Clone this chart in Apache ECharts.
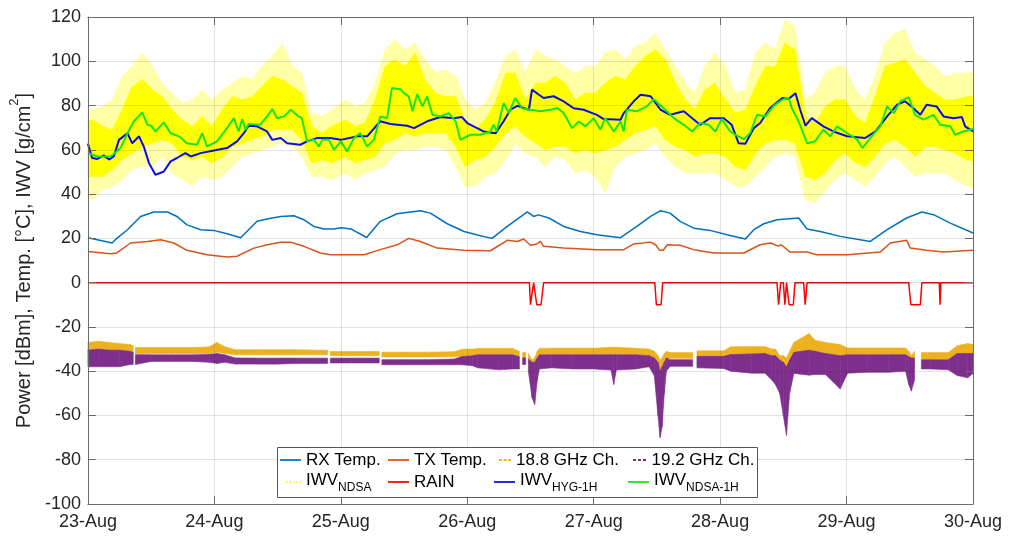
<!DOCTYPE html>
<html><head><meta charset="utf-8">
<script src="https://cdn.jsdelivr.net/npm/echarts@6/dist/echarts.min.js"></script>
<style>html,body{margin:0;padding:0;background:#fff}#c{width:1018px;height:538px}</style>
</head><body><div id="c"></div>
<script>
// x values are hours since 23-Aug 00:00
const xTickLabels = ['23-Aug','24-Aug','25-Aug','26-Aug','27-Aug','28-Aug','29-Aug','30-Aug'];

const rxTemp = [[0,20.3],[4.6,17.9],[5.2,19.4],[7.5,23.9],[10.0,29.9],[12.5,31.9],[15.1,31.9],[16.9,29.9],[18.8,26.1],[21.4,23.9],[23.9,23.6],[26.4,22.1],[29.0,20.3],[30.5,23.9],[32.1,27.7],[34.0,28.7],[36.6,29.9],[39.1,30.2],[41.0,28.4],[42.9,25.4],[44.8,24.2],[46.7,24.2],[48.0,24.8],[50.0,24.2],[52.9,20.4],[55.5,27.7],[58.7,31.1],[63.1,32.5],[65.0,31.4],[68.2,26.6],[71.4,23.1],[74.5,21.2],[76.7,20.0],[79.6,25.4],[83.4,32.0],[84.6,29.9],[85.5,30.6],[87.5,29.2],[90.3,25.4],[93.5,23.1],[96.6,21.6],[101.1,20.3],[104.2,25.4],[106.8,29.9],[108.7,32.5],[110.5,31.4],[112.4,27.7],[115.0,24.6],[118.1,23.6],[121.3,21.6],[124.8,19.7],[126.4,23.9],[128.3,26.6],[130.8,28.4],[134.9,29.2],[136.5,24.2],[139.0,23.1],[142.8,20.9],[148.5,18.6],[151.7,23.9],[155.4,29.2],[158.3,31.9],[160.5,30.7],[163.7,26.9],[168,22.4]];

const txTemp = [[0,14.1],[4.3,13.1],[5.5,13.4],[8.1,17.9],[11.3,18.6],[13.8,19.4],[16.3,17.9],[18.8,14.6],[22.6,12.6],[26.4,11.6],[28.3,11.9],[31.5,15.6],[34.0,17.1],[36.6,18.2],[38.5,18.3],[41.0,16.4],[44.1,13.4],[46.0,12.6],[52.4,12.6],[55.5,14.9],[58.7,17.1],[60.9,20.0],[63.1,18.6],[66.3,15.6],[71.4,14.6],[76.4,14.4],[79.6,19.1],[81.5,18.6],[82.7,19.7],[84.0,16.9],[85.2,17.5],[85.9,18.6],[86.5,16.4],[90.3,15.6],[96.6,14.9],[101.7,14.9],[103.6,17.5],[106.8,18.3],[107.8,17.0],[108.5,14.6],[109.2,14.6],[110.0,17.1],[112.4,16.9],[115.0,14.9],[118.8,13.4],[124.5,13.4],[127.6,17.1],[129.6,17.9],[131.0,16.5],[131.6,17.1],[133.3,13.8],[136.5,13.8],[138.3,12.6],[144.1,12.6],[150.4,13.8],[152.3,17.9],[155.4,19.1],[156.1,15.6],[159.2,14.6],[162.4,13.8],[168,14.6]];

const iwvHyg1h = [[0,62.8],[0.8,56.3],[1.8,55.9],[3.0,57.5],[4.0,55.6],[4.9,57.0],[5.9,64.5],[7.5,67.5],[8.4,63.0],[9.7,66.1],[10.6,61.5],[11.6,54.0],[12.8,48.7],[14.4,50.2],[15.7,54.8],[16.9,56.3],[18.5,58.5],[19.5,57.0],[21.4,58.5],[23.9,59.7],[26.4,60.8],[28.3,63.8],[29.6,67.5],[30.5,70.9],[32.1,70.6],[34.0,68.3],[35.0,64.5],[36.6,65.3],[37.8,63.0],[40.3,62.3],[41.6,63.8],[43.5,65.3],[46.0,65.3],[48.0,64.5],[51.2,66.1],[53.0,66.1],[55.5,72.9],[57.4,71.7],[60.6,70.9],[61.9,69.8],[64.4,72.9],[66.9,74.8],[69.5,74.3],[71.0,74.8],[72.0,72.1],[73.2,70.6],[75.1,68.3],[77.4,67.5],[78.9,72.9],[80.2,78.1],[81.5,79.9],[83.7,78.1],[84.3,87.2],[85.6,84.9],[86.5,83.4],[88.4,84.2],[90.3,81.9],[92.2,78.8],[94.1,78.1],[96.6,75.8],[97.9,73.9],[101.1,73.6],[101.7,76.6],[103.6,81.9],[104.9,84.9],[106.8,84.2],[108.7,78.1],[110.5,75.8],[113.1,77.4],[116.2,71.3],[118.1,74.3],[120.7,74.3],[122.2,71.3],[123.5,63.0],[124.8,62.7],[126.4,69.8],[127.6,72.1],[129.5,78.9],[131.8,83.4],[133.0,83.0],[134.3,85.6],[135.2,78.1],[136.2,70.9],[137.4,74.3],[139.6,70.6],[141.5,68.3],[144.1,66.1],[147.5,65.3],[149.5,68.3],[151.7,75.1],[153.6,80.4],[155.1,81.9],[156.7,78.8],[158.0,75.8],[159.2,80.4],[161.1,79.6],[162.4,75.1],[164.3,74.3],[165.9,74.8],[166.5,70.6],[168,68.3]];

const iwvNdsa1h = [[0,58.5],[1.8,57.0],[4.3,57.0],[6.2,60.8],[7.5,67.5],[8.7,72.8],[10.3,76.9],[11.3,71.3],[12.0,70.9],[12.8,68.3],[14.4,72.4],[15.7,67.5],[17.3,66.1],[18.8,63.0],[20.7,62.3],[21.7,67.5],[22.6,61.5],[24.5,63.8],[26.4,69.8],[27.7,74.3],[28.6,68.3],[29.3,73.9],[29.9,69.1],[30.5,71.7],[32.7,71.3],[34.0,75.1],[35.0,78.4],[35.9,74.3],[37.2,75.1],[38.5,78.1],[40.0,75.1],[40.6,74.3],[41.6,63.8],[42.9,64.6],[43.8,61.5],[44.5,64.6],[45.7,64.6],[46.7,60.0],[48.0,63.8],[49.2,59.3],[50.5,65.3],[51.7,67.6],[53.0,61.5],[54.3,64.6],[55.5,75.1],[56.8,74.3],[57.7,87.9],[59.3,87.4],[60.0,85.6],[60.9,84.1],[61.6,77.4],[62.5,85.2],[63.5,79.6],[64.4,84.1],[65.4,75.8],[66.9,75.1],[68.5,76.6],[69.8,72.8],[70.7,64.5],[72.6,66.8],[74.5,66.8],[76.4,68.3],[77.0,71.3],[77.6,68.3],[78.9,81.1],[79.9,76.6],[81.1,83.4],[82.4,78.8],[84.0,78.1],[85.9,77.4],[87.8,78.1],[89.1,78.9],[90.3,76.6],[91.9,69.8],[93.2,72.8],[94.4,70.6],[96.0,74.3],[97.3,69.1],[98.2,74.3],[99.8,68.3],[101.1,72.8],[101.7,68.3],[102.3,78.1],[104.2,77.4],[106.1,79.6],[107.4,82.9],[108.7,80.0],[109.6,78.1],[111.2,74.3],[113.1,71.3],[114.7,68.3],[116.2,72.1],[117.8,71.3],[119.1,68.3],[120.3,74.0],[121.9,68.3],[122.9,66.8],[124.5,64.8],[125.7,67.6],[127.0,75.8],[128.6,75.1],[130.2,79.9],[131.8,82.6],[133.0,83.4],[133.6,78.9],[134.9,72.8],[136.5,63.0],[138.0,63.8],[139.6,69.1],[140.9,66.1],[142.2,70.6],[144.1,67.6],[146.0,64.6],[147.0,60.8],[148.5,65.3],[150.4,70.6],[151.7,79.6],[153.0,76.6],[154.2,82.0],[155.8,83.7],[157.0,75.8],[158.6,73.6],[160.5,75.8],[161.8,71.3],[163.7,70.6],[164.6,66.8],[166.2,68.3],[168,69.4]];

const rain = [[0,0],[83.8,0],[84.0,-10],[84.3,-10],[84.6,0],[84.9,0],[85.2,-10],[86.0,-10],[86.5,0],[107.6,0],[107.9,-10],[108.8,-10],[109.1,0],[130.8,0],[131.1,-10],[131.5,0],[132.0,0],[132.3,-10],[132.6,0],[132.8,0],[133.1,-10],[133.9,-10],[134.2,0],[135.85,0],[136.15,-10],[136.5,0],[155.8,0],[156.2,-10],[158.0,-10],[158.3,0],[161.6,0],[161.75,-10],[161.9,0],[168,0]];

// IWV_NDSA scatter cloud, read per ~2 h: [hour, denseLow, denseHigh, sparseLow, sparseHigh]
const iwvNdsa = [[0,48,73,38,80],[0.9,48,73.6,37.5,78],[2.8,48,70.6,42,79.6],[4.6,51,69.1,43.5,82.6],[6.5,55.5,78.1,46.5,93.2],[8.4,58.5,88.6,51,97.7],[10.4,61.5,91.7,52.5,103.7],[12.3,63,87.1,52.5,97.7],[14.1,64.6,84.1,57,90.2],[16,63,78.1,49.5,85.6],[17.9,57,73.6,46.5,81.1],[19.8,55.5,70.6,43.5,82.6],[21.7,57,75.1,48,87.1],[23.5,54,70.6,46.5,82.6],[25.5,57,78.1,48,87.1],[27.4,61.5,84.1,52.5,90.2],[29.3,63,82.6,57,93.2],[31.2,64.6,84.1,58.5,91.7],[33,66.1,88.6,60,97.7],[35,69.1,93.2,61.5,102.2],[36.9,69.1,91.7,63,108.2],[38.8,69.1,88.6,61.5,97.7],[40.6,64.6,85.6,57,94.7],[42.5,54,70.6,48,76.6],[44.4,55.5,67.6,48,75.1],[46.3,54,70.6,46.5,78.1],[48.9,57,73.6,49.5,82.6],[50.8,54,70.6,46.5,79.6],[52.6,55.5,72.1,49.5,81.1],[54.5,57,82.6,51,90.2],[56.4,63,97.7,52.5,105.2],[58.3,64.6,100.7,58.5,109.7],[60.2,67.6,97.7,60,105.2],[62.1,66.1,103.7,60,108.2],[64,67.6,91.7,61.5,100.7],[66,67.6,85.6,61.5,94.7],[67.9,67.6,84.1,60,96.2],[69.8,61.5,84.1,52.5,93.2],[71.6,52.5,73.6,43.5,82.6],[73.5,55.5,69.1,43.5,78.1],[75.4,57,73.6,48,81.1],[77.3,61.5,81.1,49.5,90.2],[79.3,67.6,94.7,55.5,102.2],[81.1,70.6,94.7,63,105.2],[83,66.1,82.6,58.5,94.7],[85,63,90.2,57,105.2],[86.8,60,90.2,52.5,102.2],[88.7,61.5,93.2,57,100.7],[90.6,61.5,90.2,55.5,97.7],[92.5,58.5,82.6,49.5,94.7],[94.4,60,85.6,51,97.7],[96.3,58.5,85.6,48,97.7],[98.2,60,90.2,40.5,103.7],[100.1,61.5,93.2,52.5,105.2],[102,64.6,91.7,57,100.7],[103.9,67.6,97.7,58.5,106.7],[105.8,69.1,102.2,60,108.2],[107.7,70.6,105.2,63,112.8],[109.6,64.6,100.7,57,105.2],[111.5,61.5,90.2,52.5,97.7],[113.4,60,82.6,49.5,90.2],[115.2,57,78.1,49.5,85.6],[117.1,58.5,87.1,49.5,97.7],[119,58.5,90.2,49.5,103.7],[121,57,82.6,46.5,97.7],[122.9,52.5,76.6,43.5,85.6],[124.8,51,78.1,43.5,87.1],[126.7,58.5,88.6,48,103.7],[128.6,63,97.7,52.5,108.2],[130.5,64.6,97.7,57,105.2],[132.3,64.6,108.2,58.5,118.8],[134.2,63,105.2,57,115.8],[136.2,48,75.1,37.5,82.6],[138,46.5,72.1,36,85.6],[140,49.5,79.6,42,94.7],[141.8,55.5,82.6,46.5,97.7],[143.7,58.5,82.6,49.5,97.7],[145.7,54,75.1,46.5,87.1],[147.5,52.5,72.1,43.5,82.6],[149.4,57,84.1,48,93.2],[151.3,63,97.7,54,108.2],[153.2,64.6,99.2,57,112.8],[155.1,61.5,100.7,52.5,114.3],[157,57,94.7,48,103.7],[159,61.5,88.6,49.5,100.7],[160.8,61.5,85.6,49.5,97.7],[162.7,60,82.6,49.5,93.2],[164.6,58.5,82.6,46.5,94.7],[166.8,55.5,84.1,43.5,94.7],[168,55,84,43,95]];

// Received power spread: [hour, 19.2 low, 19.2 high, 18.8 low, 18.8 high]; null = data gap
const power = [[0,-38,-30.5,-31,-27],[2,-38,-30,-30,-26.5],[4,-38,-30.5,-30.5,-27],[6,-38,-30.5,-30.5,-27.5],[8,-37,-31,-31,-28],[8.6,-37,-31.5,-31.5,-28.5],[8.8,null,null,null,null],[9.0,-37,-32.5,-32,-29.3],[12,-35.6,-32.6,-32.1,-29.3],[16,-35.6,-32.6,-32.1,-29.3],[20,-35.6,-32.6,-32.1,-29.3],[23,-36,-32.4,-32,-29],[24.5,-36.5,-32,-31.5,-27],[26,-36,-32.6,-32,-29],[28,-36.8,-34,-32.6,-30.3],[32,-36.8,-34.1,-32.6,-30.3],[36,-36.8,-34.1,-32.6,-30.3],[40,-36.5,-34.1,-32.6,-30.3],[44,-36.5,-34.1,-32.6,-30.5],[45.5,-36.5,-34.1,-32.6,-30.5],[45.75,null,null,null,null],[46,-36.3,-34.1,-33,-31.1],[50,-36.3,-34.1,-33,-31.1],[54,-36.3,-34.1,-33,-31.1],[55.3,-36.3,-34.1,-33,-31.1],[55.55,null,null,null,null],[55.8,-37.1,-34.8,-33.6,-31.4],[60,-37.1,-34.8,-33.6,-31.4],[64,-37.1,-34.8,-33.6,-31.4],[69.5,-37.1,-34.5,-33.5,-31.2],[71,-37.1,-33.4,-33.3,-30.1],[73,-37.5,-33,-33,-30],[74,-38.5,-32.6,-32.6,-29.7],[78,-39.4,-32.6,-32.6,-29.7],[80.6,-39,-32.6,-32.6,-29.7],[81.9,-39,-33.5,-33.5,-31],[82.1,null,null,null,null],[82.5,-37,-34,-34,-31.5],[83.1,-37,-34,-34,-31.5],[83.3,null,null,null,null],[83.6,-40,-34.5,-35,-32],[84.3,-52,-36,-46,-35],[84.8,-55,-36,-45,-34],[85.3,-44,-34,-38,-31],[85.7,-39,-32.6,-32.6,-29.7],[88,-38.5,-32.6,-32.6,-29.6],[92,-39,-32.6,-32.6,-29.6],[96,-39,-32.6,-32.6,-29.6],[99.3,-39.5,-32.6,-32.6,-29.2],[99.8,-46,-32.6,-32.6,-29.2],[100.3,-39.5,-32.6,-32.6,-29.2],[104,-39,-32.6,-32.6,-29.6],[106.5,-38,-33,-33,-30],[107.5,-42,-34,-35,-31],[108.2,-60,-36,-50,-33],[108.6,-70,-40,-58,-35],[109.0,-65,-38,-52,-34],[109.4,-50,-36,-40,-32],[109.8,-40,-34,-35,-31],[110.5,-37.8,-34.8,-34.2,-31.6],[114.8,-37.8,-34.8,-34.2,-31.6],[115.05,null,null,null,null],[115.6,-38.5,-33.3,-33.3,-30.8],[120.7,-38.8,-33.3,-33.3,-30.8],[122,-40,-32.5,-32.6,-29],[126,-40.9,-32.2,-32.6,-28.9],[128.5,-40.9,-32,-32.6,-28.9],[129.8,-44,-33,-35,-30],[130.5,-46,-33,-35,-30],[131.3,-50,-35,-42,-33],[132,-60,-36,-50,-33],[132.6,-69,-38,-55,-34],[133.2,-50,-35,-40,-31],[134,-41,-31.5,-33,-27],[136.9,-41.8,-30.5,-32.5,-23],[138,-41.5,-31,-32.5,-26],[140,-41.5,-32,-33,-27],[142.8,-48,-33,-35,-28],[144.2,-40.9,-32.6,-32.6,-29.5],[148,-40.5,-32.6,-32.6,-29.5],[152,-40.5,-32.6,-32.6,-29.5],[155.2,-40,-32.6,-33,-29.5],[155.8,-46,-33.5,-38,-31],[156.3,-49,-34,-42,-33],[156.9,-44,-34,-38,-31],[157.5,null,null,null,null],[158.2,-39,-34.8,-34.6,-31.6],[160,-39,-34.8,-34.6,-31.6],[163.3,-39.4,-34.8,-34.6,-31.6],[165,-42,-32,-33,-28.5],[167,-43,-32,-33,-27.5],[168,-41,-32,-33,-28]];

const FF = '"Liberation Sans", Arial, Helvetica, sans-serif';
const AXC = '#6b6b6b';
const TXT = '#262626';

function bandSeries(name, rows, lo, hi, color, z) {
  return {
    type: 'custom', name: name, z: z, silent: true,
    itemStyle: {color: color},
    data: rows.map(r => [r[0], r[lo] == null ? '-' : r[lo], r[hi] == null ? '-' : r[hi]]),
    encode: {x: 0, y: [1, 2]},
    renderItem: function (params, api) {
      const i = params.dataIndex;
      if (i >= rows.length - 1) return;
      const a = rows[i], b = rows[i + 1];
      if (a[lo] == null || b[lo] == null) return;
      const pts = [api.coord([a[0], a[hi]]), api.coord([b[0], b[hi]]), api.coord([b[0], b[lo]]), api.coord([a[0], a[lo]])];
      return {type: 'polygon', shape: {points: pts}, style: {fill: color, stroke: color, lineWidth: 0.6}};
    }
  };
}
function lineSeries(name, data, color, width, z) {
  return {type: 'line', name: name, data: data, color: color, showSymbol: false, symbol: 'none', z: z,
    lineStyle: {color: color, width: width}, itemStyle: {color: color}};
}

const LINE_ICON = 'path://M0,0H24V2H0Z';
const DOT_ICON = 'path://M0,0h2v2h-2zM4,0h2v2h-2zM8,0h2v2h-2zM12,0h2v2h-2zM16,0h2v2h-2z';
const DASH_ICON = 'path://M0,0h3v2h-3zM5,0h3v2h-3zM10,0h3v2h-3z';

function legendText(name) {
  const m = name.split('_');
  return m.length > 1 ? '{n|' + m[0] + '}{s|' + m[1] + '}' : name;
}
function legendItem(name, icon, left, top, w) {
  return {
    data: [{name: name, icon: icon}], left: left, top: top, itemWidth: w, itemHeight: 2,
    padding: 0, itemGap: 0, z: 21, formatter: legendText,
    textStyle: {fontSize: 17, color: '#000', fontFamily: FF, lineHeight: 20,
      rich: {
        n: {fontSize: 17, lineHeight: 20, verticalAlign: 'top', color: '#000', fontFamily: FF},
        s: {fontSize: 12, lineHeight: 12, padding: [10, 0, 0, 0], verticalAlign: 'top', color: '#000', fontFamily: FF}
      }}
  };
}

const axisCommon = {
  axisLine: {show: true, onZero: false, lineStyle: {color: AXC, width: 1}},
  axisTick: {show: true, inside: true, length: 8, lineStyle: {color: AXC, width: 1}}
};

const option = {
  animation: false,
  backgroundColor: '#fff',
  grid: {left: 87, right: 45, top: 17, bottom: 34, containLabel: false},
  xAxis: [
    Object.assign({type: 'value', min: 0, max: 168, interval: 24, position: 'bottom', z: 10,
      axisLabel: {formatter: v => xTickLabels[Math.round(v / 24)], fontSize: 18, color: TXT, margin: 9, fontFamily: FF},
      splitLine: {show: false}}, axisCommon),
    Object.assign({type: 'value', min: 0, max: 168, interval: 24, position: 'top', z: 10,
      axisLabel: {show: false},
      splitLine: {show: true, lineStyle: {color: 'rgba(38,38,38,0.13)', width: 1}}}, axisCommon)
  ],
  yAxis: [
    Object.assign({type: 'value', min: -100, max: 120, interval: 20, position: 'left', z: 10,
      name: '{n|Power [dBm], Temp. [°C], IWV [g/cm}{sup|2}{n|]}',
      nameLocation: 'middle', nameGap: 40,
      nameTextStyle: {color: TXT, fontFamily: FF, fontSize: 20,
        rich: {n: {fontSize: 20, lineHeight: 26, verticalAlign: 'bottom', color: TXT, fontFamily: FF},
               sup: {fontSize: 13, lineHeight: 13, verticalAlign: 'top', color: TXT, fontFamily: FF}}},
      axisLabel: {fontSize: 18, color: TXT, margin: 7, fontFamily: FF},
      splitLine: {show: false}}, axisCommon),
    Object.assign({type: 'value', min: -100, max: 120, interval: 20, position: 'right', z: 10,
      axisLabel: {show: false},
      splitLine: {show: true, lineStyle: {color: 'rgba(38,38,38,0.13)', width: 1}}}, axisCommon)
  ],
  legend: [
    legendItem('RX Temp.', LINE_ICON, 280, 450, 21),
    legendItem('TX Temp.', LINE_ICON, 388, 450, 21),
    legendItem('18.8 GHz Ch.', DASH_ICON, 499, 450, 12),
    legendItem('19.2 GHz Ch.', DASH_ICON, 633, 450, 14),
    legendItem('IWV_NDSA', DOT_ICON, 286, 472, 15),
    legendItem('RAIN', LINE_ICON, 388, 472, 21),
    legendItem('IWV_HYG-1H', LINE_ICON, 494, 472, 21),
    legendItem('IWV_NDSA-1H', LINE_ICON, 628, 472, 21)
  ],
  graphic: [{type: 'rect', z: 20, shape: {x: 277.5, y: 447.5, width: 480, height: 50},
    style: {fill: '#fff', stroke: '#555', lineWidth: 1}}],
  series: [
    lineSeries('RX Temp.', rxTemp, '#0072BD', 1.5, 4),
    lineSeries('TX Temp.', txTemp, '#D95319', 1.5, 4),
    bandSeries('18.8 GHz Ch.', power, 3, 4, '#EDB120', 2),
    bandSeries('19.2 GHz Ch.', power, 1, 2, '#7E2F8E', 3),
    bandSeries('IWV_NDSA', iwvNdsa, 1, 2, '#FFFF00', 1),
    bandSeries('IWV_NDSA', iwvNdsa, 3, 4, '#ffffa6', 0),
    lineSeries('RAIN', rain, '#FF0000', 1.5, 5),
    lineSeries('IWV_HYG-1H', iwvHyg1h, '#0a0af0', 2, 6),
    lineSeries('IWV_NDSA-1H', iwvNdsa1h, '#14e614', 2, 6)
  ]
};
const chart = echarts.init(document.getElementById('c'), null, {renderer: 'canvas'});
chart.setOption(option);
</script>
</body></html>
